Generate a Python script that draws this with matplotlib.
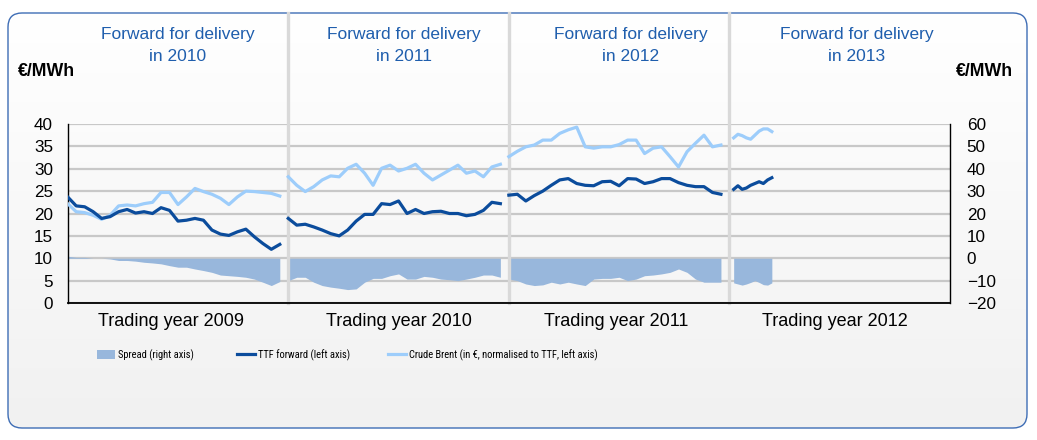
import numpy as np
import matplotlib
matplotlib.use('Agg')
import matplotlib.pyplot as plt
from matplotlib import font_manager
from matplotlib.patches import FancyBboxPatch, Patch
from matplotlib.lines import Line2D
from matplotlib.colors import LinearSegmentedColormap

plt.rcParams['font.family'] = ['Liberation Sans', 'DejaVu Sans']

# ---------------- data ----------------
trading_years = ['2009', '2010', '2011', '2012']
delivery_years = ['2010', '2011', '2012', '2013']
legend_labels = ['Spread (right axis)', 'TTF forward (left axis)',
                 'Crude Brent (in €, normalised to TTF, left axis)']

weeks_full = list(range(0, 51, 2))      # week-of-year sample points
weeks_2012 = list(range(1, 11))

ttf_2009 = [23.7, 21.7, 21.5, 20.4, 18.9, 19.3, 20.4, 20.9, 20.1, 20.4, 20.0, 21.3, 20.7,
            18.3, 18.5, 18.9, 18.5, 16.3, 15.4, 15.1, 15.9, 16.5, 14.8, 13.3, 12.0, 13.1]
brent_2009 = [22.2, 20.4, 20.2, 19.6, 18.7, 19.6, 21.7, 21.9, 21.7, 22.2, 22.5, 24.7, 24.7,
              22.0, 23.7, 25.6, 24.9, 24.3, 23.4, 22.0, 23.7, 25.0, 24.9, 24.7, 24.5, 23.9]
spread_2009 = [0.9, 0.4, 0.4, 0.0, 0.0, -0.3, -1.0, -1.0, -1.3, -1.8, -2.1, -2.5, -3.3,
               -4.0, -4.0, -4.8, -5.5, -6.3, -7.5, -7.8, -8.1, -8.5, -9.3, -10.7, -12.2, -10.4]

ttf_2010 = [18.9, 17.4, 17.6, 17.0, 16.3, 15.5, 15.0, 16.3, 18.3, 19.8, 19.8, 22.2, 22.0,
            22.8, 20.0, 20.9, 20.0, 20.4, 20.5, 20.0, 20.0, 19.5, 19.8, 20.7, 22.5, 22.2]
brent_2010 = [28.2, 26.3, 24.9, 26.0, 27.5, 28.4, 28.2, 30.1, 31.0, 29.0, 26.3, 30.1, 30.8,
              29.5, 30.1, 31.0, 29.0, 27.5, 28.6, 29.7, 30.8, 29.0, 29.5, 28.2, 30.4, 31.0]
spread_2010 = [-10.0, -8.5, -8.5, -10.7, -12.2, -12.9, -13.4, -14.0, -13.7, -10.7, -9.0, -9.0, -7.8,
               -7.0, -9.3, -9.3, -8.1, -8.5, -9.3, -9.6, -10.0, -9.3, -8.5, -7.5, -7.5, -8.5]

ttf_2011 = [24.1, 24.3, 22.8, 24.0, 25.0, 26.3, 27.5, 27.8, 26.7, 26.3, 26.2, 27.1, 27.2,
            26.2, 27.8, 27.7, 26.7, 27.1, 27.8, 27.8, 26.9, 26.3, 26.0, 26.0, 24.7, 24.3]
brent_2011 = [32.7, 33.9, 34.9, 35.3, 36.4, 36.4, 37.9, 38.7, 39.3, 34.9, 34.6, 34.9, 34.9,
              35.4, 36.4, 36.4, 33.4, 34.6, 34.9, 32.7, 30.4, 33.8, 35.7, 37.5, 34.9, 35.3]
spread_2011 = [-9.3, -10.0, -11.5, -12.2, -11.9, -10.7, -11.5, -10.7, -11.5, -12.2, -9.3, -9.0, -9.0,
               -8.5, -10.0, -9.3, -7.8, -7.5, -7.0, -6.3, -4.8, -6.3, -9.3, -10.7, -10.7, -10.7]

ttf_2012 = [25.4, 26.2, 25.4, 25.7, 26.3, 26.7, 27.1, 26.7, 27.5, 28.0]
brent_2012 = [36.9, 37.7, 37.4, 36.9, 36.6, 37.5, 38.4, 38.9, 38.9, 38.3]
spread_2012 = [-11.0, -11.5, -12.0, -11.5, -10.8, -10.0, -10.8, -11.8, -12.0, -11.0]

left_ticks = list(range(0, 41, 5))
right_ticks = list(range(-20, 61, 10))

segments = [
    (weeks_full, ttf_2009, brent_2009, spread_2009),
    (weeks_full, ttf_2010, brent_2010, spread_2010),
    (weeks_full, ttf_2011, brent_2011, spread_2011),
    (weeks_2012, ttf_2012, brent_2012, spread_2012),
]

# ---------------- style ----------------
C_TTF = '#0B4C9C'
C_BRENT = '#9DCDFB'
C_SPREAD = '#98B7DC'
C_TITLE = '#1F5EAD'
C_SEP = '#D9D9D9'
C_GRID = '#C8C8C8'
WEEKS_PER_YEAR = 52

# narrow font for the legend, if one is installed
avail = {f.name for f in font_manager.fontManager.ttflist}
legend_family = None
for cand in ['Liberation Sans Narrow', 'Roboto Condensed', 'Open Sans Condensed',
             'DejaVu Sans Condensed', 'Noto Sans Condensed']:
    if cand in avail:
        legend_family = cand
        break
legend_prop = {'family': [legend_family or 'Liberation Sans', 'DejaVu Sans'],
               'size': 7.6 if legend_family else 6.8}

W, H = 1037, 440
fig = plt.figure(figsize=(W / 100, H / 100), dpi=100)
fig.patch.set_facecolor('white')

def fx(px):
    return px / W

def fy(py):
    return 1 - py / H

# background rounded box with a soft vertical gradient
bg = fig.add_axes([0, 0, 1, 1], zorder=-10)
bg.axis('off')
box = FancyBboxPatch((8, 13), 1019, 415, boxstyle='round,pad=0,rounding_size=14',
                     facecolor='none', edgecolor='#3E6DB5', lw=1.0, zorder=2)
bg.add_patch(box)
grad = np.linspace(0, 1, 256).reshape(-1, 1)
cmap = LinearSegmentedColormap.from_list('g', ['#FFFFFF', '#F1F1F1'])
im = bg.imshow(grad, extent=[8, 1027, 428, 13], cmap=cmap, aspect='auto', zorder=1)
im.set_clip_path(box)
bg.set_xlim(0, W)
bg.set_ylim(H, 0)

# main axes
left_px, right_px, top_px, bot_px = 67.7, 950, 124, 303
ax2 = fig.add_axes([fx(left_px), fy(bot_px), (right_px - left_px) / W, (bot_px - top_px) / H])
ax = ax2.twinx()
ax.yaxis.set_label_position('left')
ax.yaxis.tick_left()
ax2.yaxis.tick_right()
ax2.yaxis.set_label_position('right')
ax.patch.set_visible(False)
ax2.patch.set_visible(False)

ax.set_ylim(0, 40)
ax2.set_ylim(-20, 60)
ax.set_xlim(0, 4 * WEEKS_PER_YEAR)
ax2.set_xlim(0, 4 * WEEKS_PER_YEAR)

ax.set_yticks(left_ticks)
ax2.set_yticks(right_ticks)
ax.tick_params(axis='y', length=0, pad=10.5, labelsize=12.3)
ax2.tick_params(axis='y', length=0, pad=12, labelsize=12.3)

ax2.yaxis.grid(True, color=C_GRID, lw=1.6)
ax2.set_axisbelow(True)

qticks = list(range(0, 4 * WEEKS_PER_YEAR + 1, 13))
ax.set_xticks(qticks)
ax.set_xticklabels([])
ax2.set_xticks([])
ax.tick_params(axis='x', direction='out', length=2.6, width=0.9, color='black')

for s in ['top', 'right']:
    ax.spines[s].set_visible(False)
for s in ['top', 'left', 'bottom']:
    ax2.spines[s].set_visible(False)
ax.spines['left'].set_color('black')
ax.spines['bottom'].set_color('black')
ax.spines['bottom'].set_linewidth(1.3)
ax.spines['left'].set_linewidth(1.0)
ax2.spines['right'].set_color('black')
ax2.spines['right'].set_linewidth(1.0)

# data
for i, (wk, ttf, brent, spread) in enumerate(segments):
    x = np.array(wk) + i * WEEKS_PER_YEAR
    ax2.fill_between(x, 0, spread, color=C_SPREAD, lw=0, zorder=2)
    ax.plot(x, brent, color=C_BRENT, lw=2.3, zorder=3)
    ax.plot(x, ttf, color=C_TTF, lw=2.3, zorder=4)

# year separators
ymax = (bot_px - 13) / (bot_px - top_px)
for i in range(1, 4):
    ax.plot([i * WEEKS_PER_YEAR] * 2, [0, ymax], transform=ax.get_xaxis_transform(),
            clip_on=False, color=C_SEP, lw=2.4, zorder=1)

# texts
xlabel_px = [171, 399, 616, 835]
title_px = [178, 404, 631, 857]
for i, (ty, dy) in enumerate(zip(trading_years, delivery_years)):
    fig.text(fx(xlabel_px[i]), fy(321), 'Trading year ' + ty, ha='center', va='center',
             fontsize=13, color='black')
    fig.text(fx(title_px[i]), fy(35), 'Forward for delivery', ha='center', va='center',
             fontsize=12.5, color=C_TITLE)
    fig.text(fx(title_px[i]), fy(56.5), 'in ' + dy, ha='center', va='center',
             fontsize=12.5, color=C_TITLE)

fig.text(fx(18), fy(71), '€/MWh', ha='left', va='center', fontsize=12.8, fontweight='bold')
fig.text(fx(1013), fy(71), '€/MWh', ha='right', va='center', fontsize=12.8, fontweight='bold')

# legend: three entries anchored at their own positions
handles = [Patch(facecolor=C_SPREAD, edgecolor='none'),
           Line2D([], [], color=C_TTF, lw=2.3),
           Line2D([], [], color=C_BRENT, lw=2.3)]
legend_px = [97, 237, 388]
for h, lab, px in zip(handles, legend_labels, legend_px):
    fig.legend([h], [lab], loc='center left', bbox_to_anchor=(fx(px), fy(355)),
               frameon=False, borderpad=0, borderaxespad=0,
               handlelength=1.7, handleheight=0.85, handletextpad=0.28, prop=legend_prop)

fig.savefig('out.png', dpi=100)
